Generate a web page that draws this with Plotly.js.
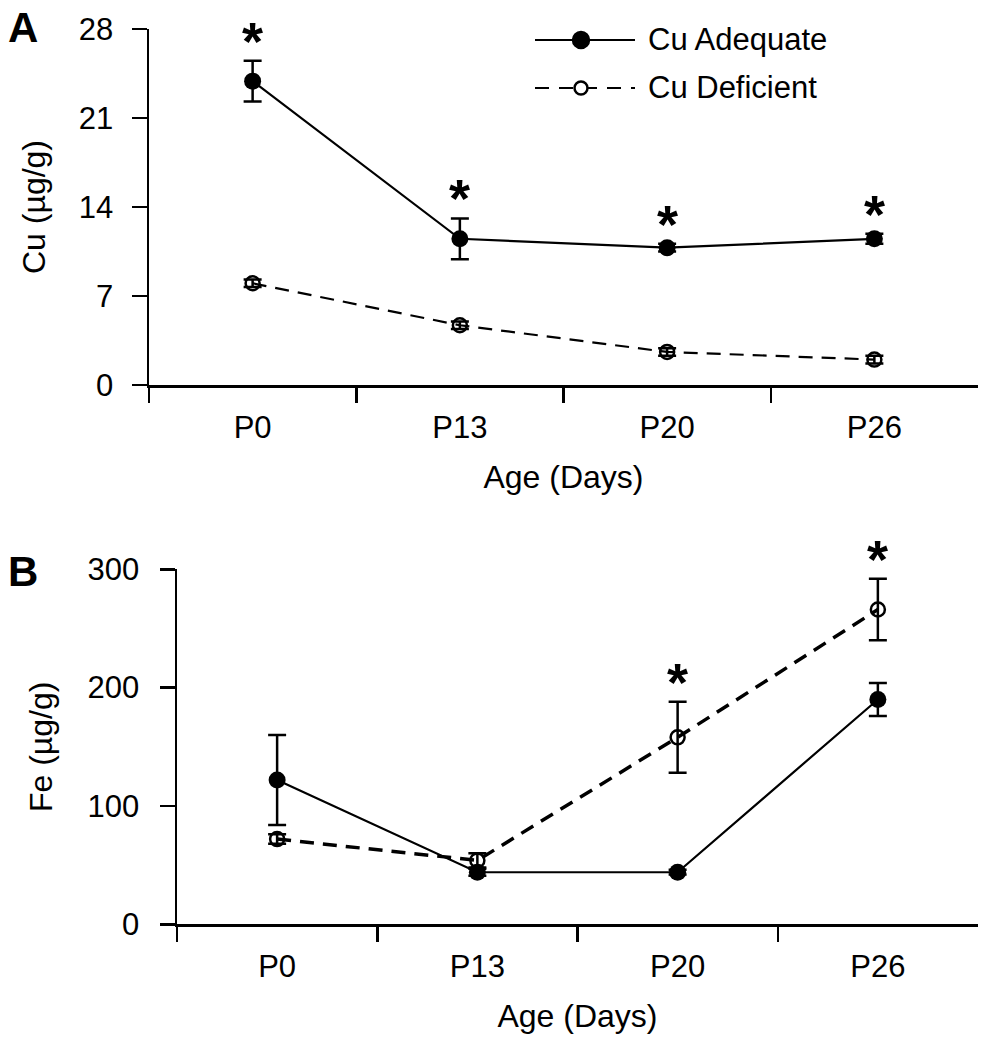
<!DOCTYPE html>
<html>
<head>
<meta charset="utf-8">
<script src="https://cdn.plot.ly/plotly-3.0.1.min.js"></script>
<style>html,body{margin:0;padding:0;background:#fff;}#chart{width:1005px;height:1050px;}</style>
</head>
<body>
<div id="chart"></div>
<script>
// ---- data ----
var categories = ['P0', 'P13', 'P20', 'P26'];
var seriesNames = ['Cu Adequate', 'Cu Deficient'];

var cuAdequate = [23.9, 11.5, 10.8, 11.5];
var cuAdequateErr = [1.6, 1.6, 0.3, 0.4];
var cuDeficient = [8.0, 4.7, 2.6, 2.0];
var cuDeficientErr = [0.3, 0.3, 0.3, 0.3];
var cuSignificant = [true, true, true, true];

var feAdequate = [122, 44, 44, 190];
var feAdequateErr = [38, 3, 2, 14];
var feDeficient = [72, 54, 158, 266];
var feDeficientErr = [4, 6, 30, 26];
var feSignificant = [false, false, true, true];

var cuTicks = [0, 7, 14, 21, 28];
var feTicks = [0, 100, 200, 300];

// ---- styling ----
var W = 1005, H = 1050;
var FONT = 'Arial, "Liberation Sans", sans-serif';
function px(x) { return x / W; }
function py(y) { return 1 - y / H; }

function mkTrace(y, err, adequate, xa, ya, dashWidth) {
  return {
    x: categories, y: y, xaxis: xa, yaxis: ya,
    type: 'scatter', mode: 'lines+markers', cliponaxis: false,
    name: adequate ? seriesNames[0] : seriesNames[1], showlegend: false,
    line: adequate ? {color: '#000', width: 2.2} : {color: '#000', width: dashWidth, dash: '14px,9px'},
    marker: adequate ? {symbol: 'circle', size: 17, color: '#000'}
                     : {symbol: 'circle-open', size: 14, color: '#000', line: {color: '#000', width: 2.5}},
    error_y: {type: 'data', array: err, visible: true, color: '#000', thickness: 2.5, width: 9}
  };
}

var data = [
  mkTrace(cuAdequate, cuAdequateErr, true, 'x', 'y'),
  mkTrace(cuDeficient, cuDeficientErr, false, 'x', 'y', 2.2),
  mkTrace(feAdequate, feAdequateErr, true, 'x2', 'y2'),
  mkTrace(feDeficient, feDeficientErr, false, 'x2', 'y2', 3.5)
];

function xAxis(domain, anchor) {
  return {
    domain: domain, anchor: anchor, type: 'category', categoryarray: categories,
    range: [-0.5, 3.5], tickson: 'boundaries', ticks: 'outside', ticklen: 15, tickwidth: 2.5,
    tickcolor: '#000', showline: true, linewidth: 2.5, linecolor: '#000', showgrid: false,
    zeroline: false, automargin: false, fixedrange: true, ticklabelstandoff: 13,
    tickfont: {family: FONT, size: 31, color: '#000'},
    title: {text: 'Age (Days)', font: {family: FONT, size: 32, color: '#000'}, standoff: 22}
  };
}
function yAxis(domain, anchor, range, ticks, title, labelGap, standoff) {
  return {
    domain: domain, anchor: anchor, range: range, tickvals: ticks, ticktext: ticks.map(String),
    ticks: 'outside', ticklen: 15, tickwidth: 2.5, tickcolor: '#000',
    showline: true, linewidth: 2.5, linecolor: '#000', showgrid: false, zeroline: false,
    automargin: false, fixedrange: true, ticklabelstandoff: labelGap,
    tickfont: {family: FONT, size: 31, color: '#000'},
    title: {text: title, font: {family: FONT, size: 32, color: '#000'}, standoff: standoff}
  };
}

var annotations = [];
function addStars(sig, a, ae, b, be, xa, ya) {
  for (var i = 0; i < categories.length; i++) {
    if (!sig[i]) continue;
    var top = Math.max(a[i] + ae[i], b[i] + be[i]);
    annotations.push({
      x: categories[i], y: top, xref: xa, yref: ya, text: '<b>*</b>', showarrow: false,
      xanchor: 'center', yanchor: 'middle', yshift: 20,
      font: {family: FONT, size: 54, color: '#000'}
    });
  }
}
addStars(cuSignificant, cuAdequate, cuAdequateErr, cuDeficient, cuDeficientErr, 'x', 'y');
addStars(feSignificant, feAdequate, feAdequateErr, feDeficient, feDeficientErr, 'x2', 'y2');

// panel letters
annotations.push({x: px(23), y: py(28), xref: 'paper', yref: 'paper', text: '<b>A</b>', showarrow: false,
  xanchor: 'center', yanchor: 'middle', font: {family: FONT, size: 42, color: '#000'}});
annotations.push({x: px(23), y: py(571), xref: 'paper', yref: 'paper', text: '<b>B</b>', showarrow: false,
  xanchor: 'center', yanchor: 'middle', font: {family: FONT, size: 42, color: '#000'}});

// custom legend (long sample lines as in the reference)
var shapes = [];
var legendRows = [40, 88];
seriesNames.forEach(function (nm, k) {
  var yy = py(legendRows[k]);
  shapes.push({type: 'line', xref: 'paper', yref: 'paper', x0: px(535), x1: px(635), y0: yy, y1: yy,
    line: {color: '#000', width: 2.2, dash: k === 0 ? 'solid' : '14px,10px'}});
  var r = k === 0 ? 8 : 6.5;
  shapes.push({type: 'circle', xref: 'paper', yref: 'paper',
    x0: px(581 - r), x1: px(581 + r), y0: py(legendRows[k] + r), y1: py(legendRows[k] - r),
    fillcolor: k === 0 ? '#000' : '#fff', line: {color: '#000', width: 2.5}});
  annotations.push({x: px(646), y: yy, xref: 'paper', yref: 'paper', text: nm, showarrow: false,
    xanchor: 'left', yanchor: 'middle', font: {family: FONT, size: 31, color: '#000'}});
});

var layout = {
  width: W, height: H, margin: {l: 0, r: 0, t: 0, b: 0},
  paper_bgcolor: '#fff', plot_bgcolor: '#fff', showlegend: false,
  font: {family: FONT, color: '#000'},
  xaxis: xAxis([px(149), px(978)], 'y'),
  yaxis: yAxis([py(385), py(29)], 'x', [0, 28], cuTicks, 'Cu (µg/g)', 12, 24),
  xaxis2: xAxis([px(177), px(978)], 'y2'),
  yaxis2: yAxis([py(924.3), py(569.3)], 'x2', [0, 300], feTicks, 'Fe (µg/g)', 14, 26),
  annotations: annotations, shapes: shapes
};

Plotly.newPlot('chart', data, layout, {displayModeBar: false, staticPlot: true});
</script>
</body>
</html>
